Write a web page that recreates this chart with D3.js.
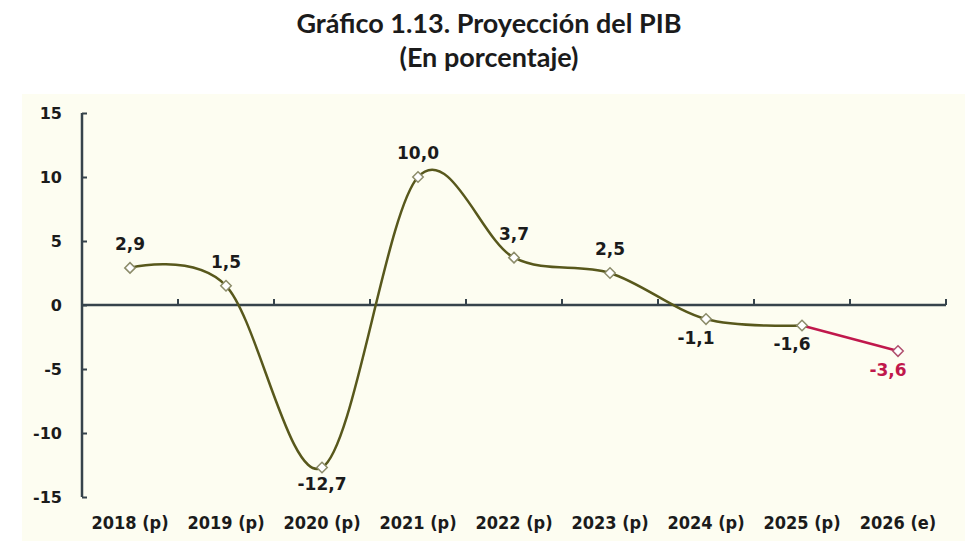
<!DOCTYPE html>
<html>
<head>
<meta charset="utf-8">
<script src="https://cdn.jsdelivr.net/npm/d3@7"></script>
<style>
  body { margin: 0; background: #ffffff; }
  svg { display: block; }
</style>
</head>
<body>
<svg id="chart" width="980" height="553"></svg>
<script>
// categories and values
const years = ["2018 (p)", "2019 (p)", "2020 (p)", "2021 (p)", "2022 (p)", "2023 (p)", "2024 (p)", "2025 (p)", "2026 (e)"];
const pib = [2.9, 1.5, -12.7, 10.0, 3.7, 2.5, -1.1, -1.6, -3.6];
const yTicks = [-15, -10, -5, 0, 5, 10, 15];
const projectedFrom = 7; // last point of the green series, the red one starts here

const svg = d3.select("#chart");
const W = 980, H = 553;
const margin = { left: 82, right: 34, top: 113, bottom: 56 };

const olive = "#58581c";
const red = "#c0184c";
const axisColor = "#36434b";
// plain hyphen for negatives, comma as decimal mark
const fmt = v => d3.format(".1f")(v).replace("−", "-").replace(".", ",");

// cream panel
svg.append("rect")
    .attr("x", 22).attr("y", 94)
    .attr("width", 943).attr("height", 447)
    .attr("fill", "#fdfdf1");

// titles
const titleFont = "Lato, 'Open Sans', sans-serif";
svg.append("text")
    .attr("x", 489).attr("y", 33)
    .attr("text-anchor", "middle")
    .style("font-family", titleFont)
    .style("font-weight", "bold")
    .style("font-size", "27px")
    .attr("fill", "#1b1b1b")
    .text("Gráfico 1.13. Proyección del PIB");
svg.append("text")
    .attr("x", 489).attr("y", 67)
    .attr("text-anchor", "middle")
    .style("font-family", titleFont)
    .style("font-weight", "bold")
    .style("font-size", "27px")
    .attr("fill", "#1b1b1b")
    .text("(En porcentaje)");

const x = d3.scaleBand()
    .domain(years)
    .range([margin.left, W - margin.right]);

const y = d3.scaleLinear()
    .domain([-15, 15])
    .range([H - margin.bottom, margin.top]);

// y axis
const yAxis = svg.append("g")
    .attr("transform", `translate(${margin.left},0)`)
    .call(d3.axisLeft(y).tickValues(yTicks).tickSize(-5).tickPadding(20).tickFormat(d => d));
yAxis.select(".domain").attr("stroke", axisColor).attr("stroke-width", 2.5)
    .attr("d", `M0,${y(15)}H0V${y(-15)}H0`);
yAxis.selectAll(".tick line").attr("stroke", axisColor).attr("stroke-width", 2);
yAxis.selectAll(".tick text")
    .attr("fill", "#1b1b1b")
    .style("font-family", "'DejaVu Sans', Verdana, sans-serif")
    .style("font-weight", "bold")
    .style("font-size", "16px");

// x axis sits on zero, ticks between categories pointing up
const xAxisG = svg.append("g");
xAxisG.append("line")
    .attr("x1", margin.left).attr("x2", W - margin.right)
    .attr("y1", y(0)).attr("y2", y(0))
    .attr("stroke", axisColor).attr("stroke-width", 2.5);
xAxisG.selectAll("line.tk")
    .data(years)
    .join("line")
    .attr("class", "tk")
    .attr("x1", d => x(d) + x.bandwidth()).attr("x2", d => x(d) + x.bandwidth())
    .attr("y1", y(0)).attr("y2", y(0) - 6)
    .attr("stroke", axisColor).attr("stroke-width", 2);

// category labels along the bottom
svg.selectAll("text.cat")
    .data(years)
    .join("text")
    .attr("class", "cat")
    .attr("x", d => x(d) + x.bandwidth() / 2)
    .attr("y", H - margin.bottom + 32)
    .attr("text-anchor", "middle")
    .attr("fill", "#1b1b1b")
    .style("font-family", "'DejaVu Sans Condensed', 'DejaVu Sans', sans-serif")
    .style("font-weight", "bold")
    .style("font-size", "18px")
    .text(d => d);

const pts = years.map((yr, i) => ({ yr, v: pib[i], i }));
const cx = d => x(d.yr) + x.bandwidth() / 2;

const smooth = d3.line()
    .x(cx).y(d => y(d.v))
    .curve(d3.curveCardinal.tension(0));
const straight = d3.line()
    .x(cx).y(d => y(d.v));

svg.append("path")
    .attr("d", smooth(pts.slice(0, projectedFrom + 1)))
    .attr("fill", "none")
    .attr("stroke", olive)
    .attr("stroke-width", 2.5);
svg.append("path")
    .attr("d", straight(pts.slice(projectedFrom)))
    .attr("fill", "none")
    .attr("stroke", red)
    .attr("stroke-width", 2.5);

// hollow diamonds
const diamond = d3.symbol().type(d3.symbolDiamond2).size(70);
svg.selectAll("path.mk")
    .data(pts)
    .join("path")
    .attr("class", "mk")
    .attr("d", diamond)
    .attr("transform", d => `translate(${cx(d)},${y(d.v)})`)
    .attr("fill", "#ffffff")
    .attr("stroke", d => d.i > projectedFrom ? "#b0506e" : "#8c8c6a")
    .attr("stroke-width", 1.5);

// value labels: above for the top points, below for the dips
svg.selectAll("text.val")
    .data(pts)
    .join("text")
    .attr("class", "val")
    .attr("x", d => cx(d) + (d.v < 0 && d.v > -5 ? -10 : 0))
    .attr("y", d => y(d.v) + (d.v < 0 ? (d.v < -5 ? 22 : 25) : -18))
    .attr("text-anchor", "middle")
    .attr("fill", d => d.i > projectedFrom ? red : "#1b1b1b")
    .style("font-family", "'DejaVu Sans', Verdana, sans-serif")
    .style("font-weight", "bold")
    .style("font-size", "17px")
    .text(d => fmt(d.v));
</script>
</body>
</html>
